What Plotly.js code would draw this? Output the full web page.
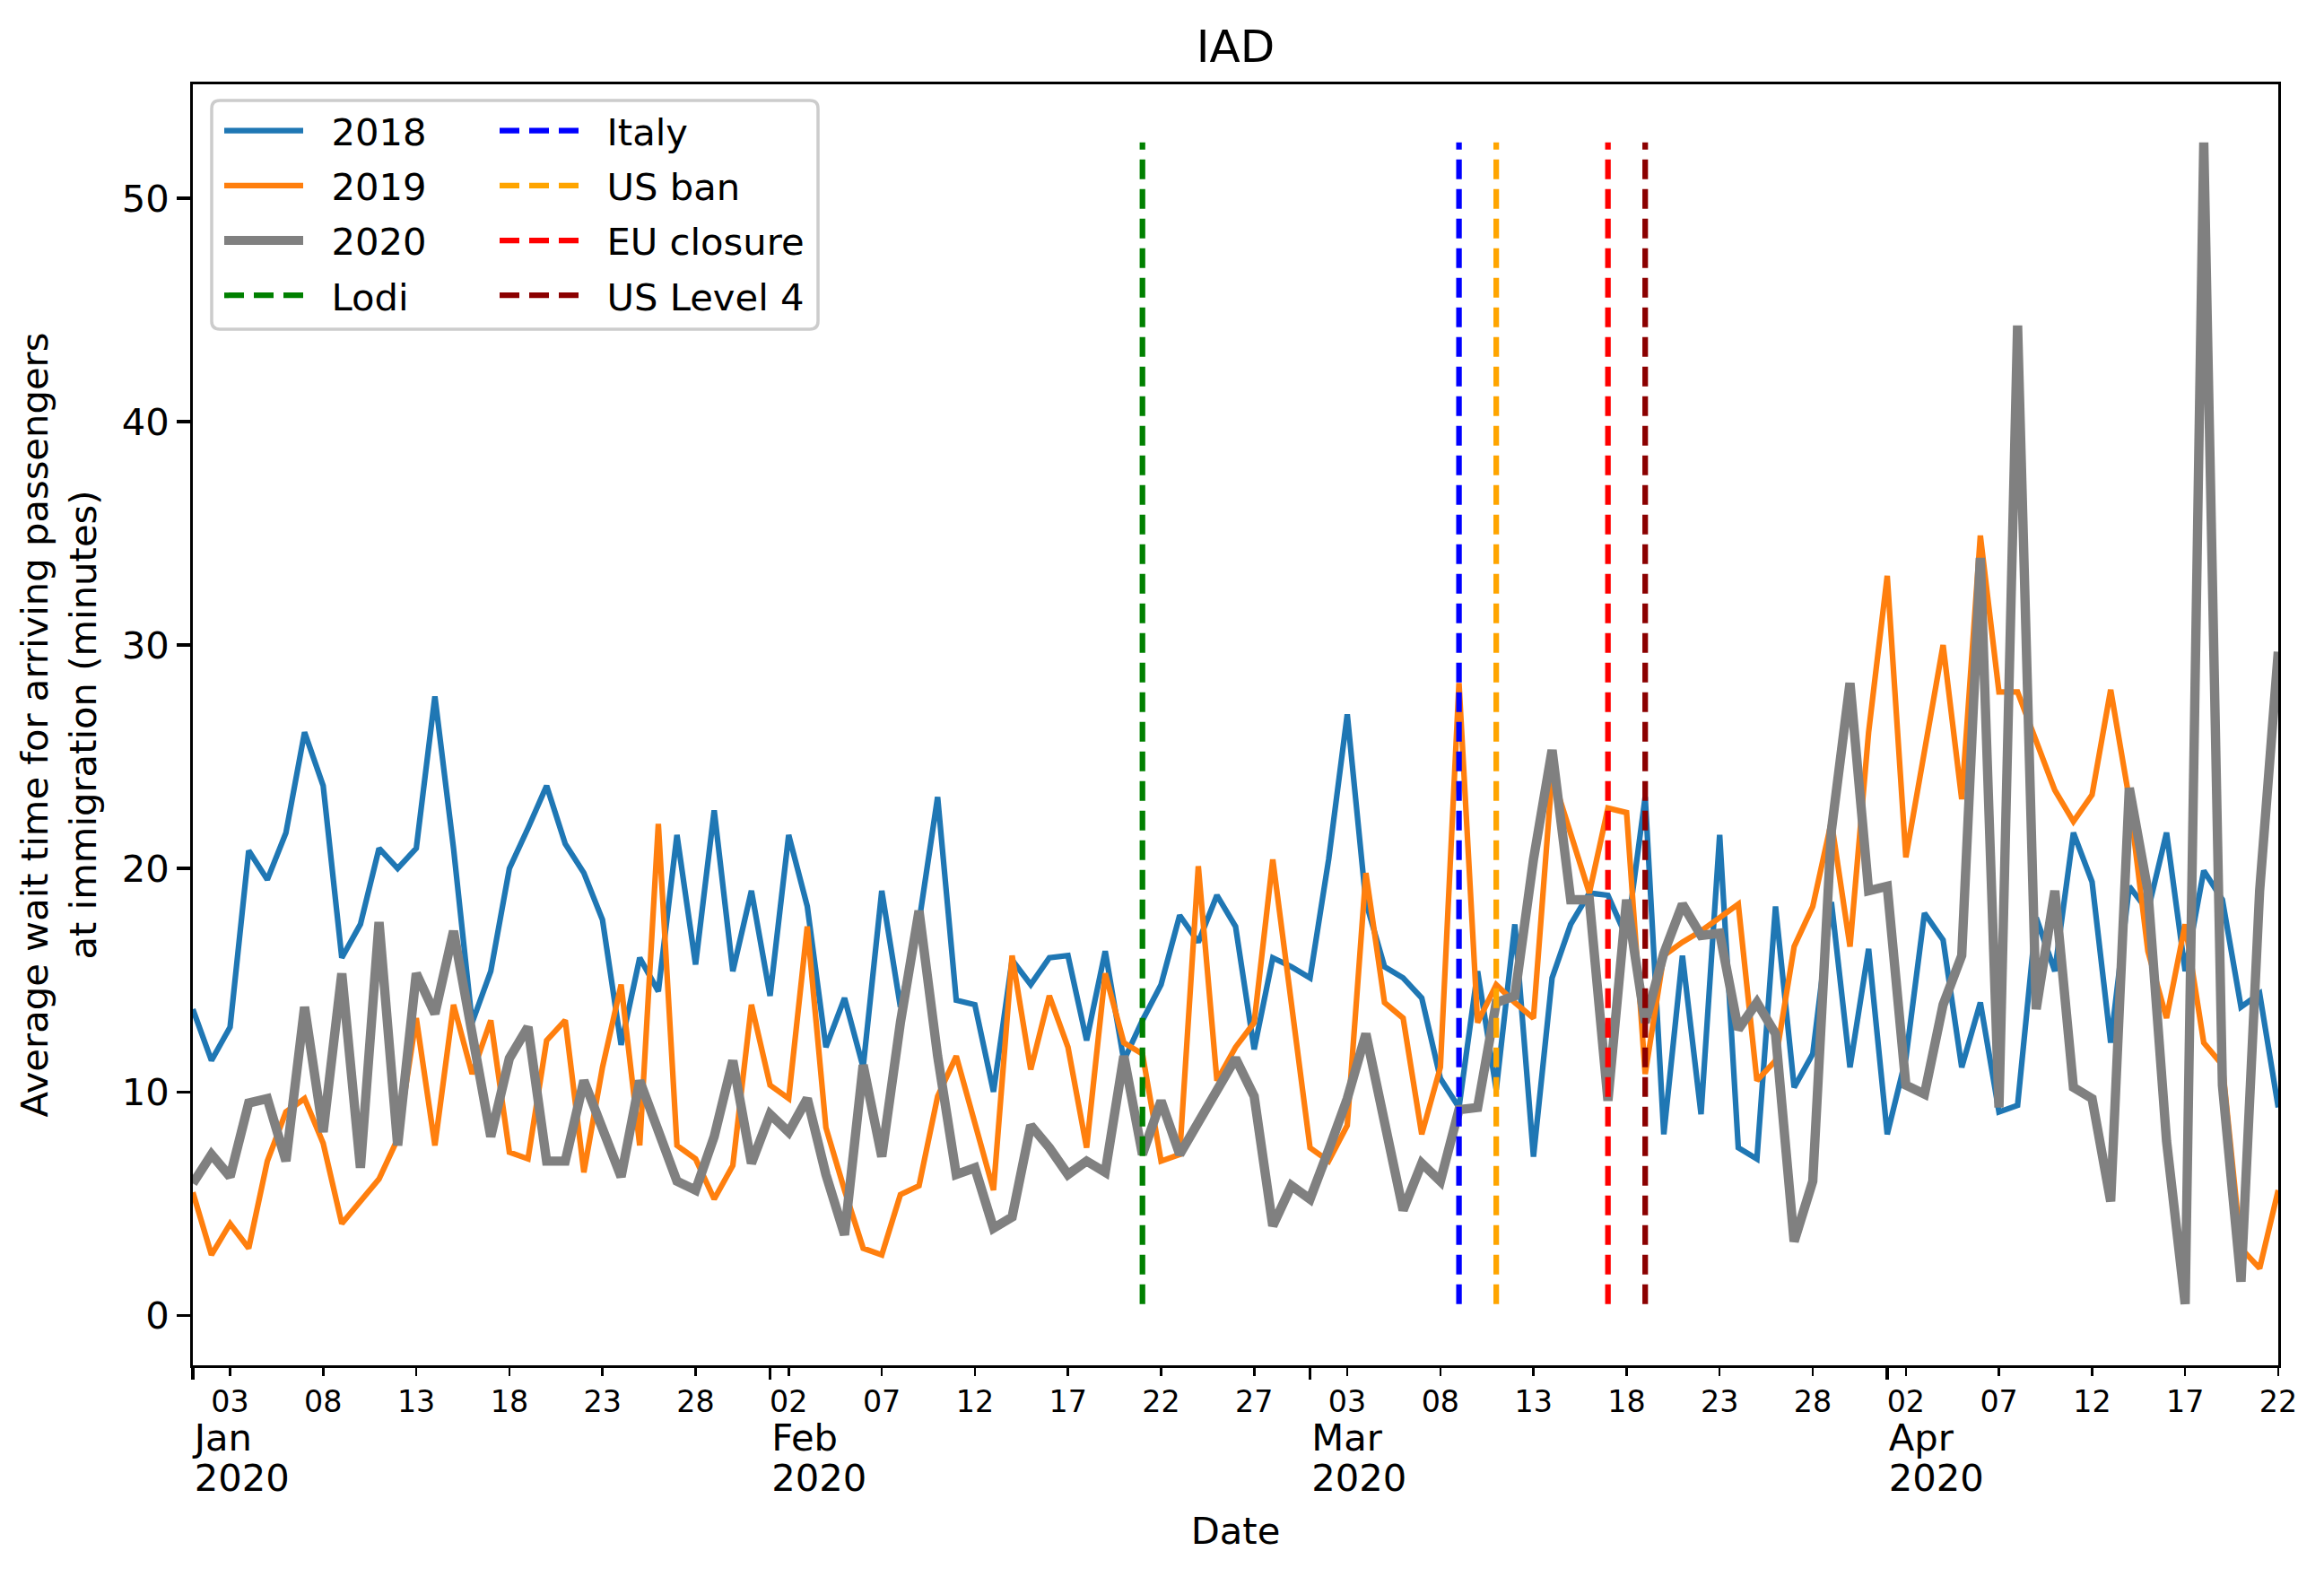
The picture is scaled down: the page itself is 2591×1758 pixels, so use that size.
<!DOCTYPE html>
<html>
<head>
<meta charset="utf-8">
<script src="https://cdn.plot.ly/plotly-3.0.1.min.js"></script>
<style>
  html, body { margin: 0; padding: 0; background: #ffffff; }
  #chart { width: 2591px; height: 1758px; }
</style>
</head>
<body>
<div id="chart"></div>
<script>
// ---------------- DATA ----------------
const START_DATE = '2020-01-01';
const N_DAYS = 113; // 2020-01-01 .. 2020-04-22

const SERIES_NAMES = ['2018', '2019', '2020'];

const WAIT_2018 = [
  13.7, 11.4, 12.9, 20.8, 19.5, 21.6, 26.1, 23.7, 16.0, 17.5, 20.9, 20.0, 20.9, 27.7, 20.9, 13.1, 15.4, 20.0, 21.8, 23.7, 21.1,
  19.8, 17.7, 12.1, 16.0, 14.5, 21.5, 15.7, 22.6, 15.4, 19.0, 14.3, 21.5, 18.3, 12.0, 14.2, 11.1, 19.0, 13.8,
  17.6, 23.2, 14.1, 13.9, 10.0, 15.9, 14.8, 16.0, 16.1, 12.3, 16.3, 11.4, 13.2, 14.8, 17.9, 16.7, 18.8, 17.4, 11.9, 16.0,
  15.6, 15.1, 20.4, 26.9, 18.5, 15.6, 15.1, 14.2, 10.6, 9.3, 15.4, 10.1, 17.5, 7.1, 15.1, 17.5, 18.9, 18.8, 16.9, 23.2,
  8.1, 16.1, 9.0, 21.5, 7.5, 7.0, 18.3, 10.2, 11.7, 18.5, 11.1, 16.4, 8.1, 11.5, 18.0, 16.8, 11.1, 14.0, 9.1,
  9.4, 17.8, 15.4, 21.6, 19.4, 12.2, 19.2, 18.1, 21.6, 15.4, 19.9, 18.6, 13.8, 14.4, 9.3
];

const WAIT_2019 = [
  5.5, 2.7, 4.1, 3.0, 6.9, 9.1, 9.7, 7.7, 4.1, 5.1, 6.1, 7.9, 13.3, 7.6, 13.9, 10.8, 13.2, 7.3, 7.0, 12.3, 13.2,
  6.4, 11.1, 14.8, 7.6, 22.0, 7.6, 7.0, 5.2, 6.7, 13.9, 10.3, 9.7, 17.4, 8.4, 5.6, 3.0, 2.7, 5.4,
  5.8, 9.8, 11.6, 8.7, 5.6, 16.1, 11.0, 14.3, 12.0, 7.5, 15.3, 12.2, 11.7, 6.9, 7.2, 20.1, 10.5, 12.0, 13.1, 20.4,
  13.9, 7.5, 6.9, 8.5, 19.8, 14.0, 13.3, 8.1, 11.1, 28.3, 13.1, 14.8, 14.0, 13.3, 24.2, 21.5, 18.9, 22.7, 22.5, 10.8,
  16.1, 16.7, 17.2, 17.8, 18.4, 10.5, 11.4, 16.5, 18.3, 22.1, 16.5, 26.1, 33.1, 20.5, 25.3, 30.0, 23.1, 34.9, 27.9,
  27.9, 25.7, 23.5, 22.1, 23.3, 28.0, 23.1, 16.3, 13.3, 17.5, 12.2, 11.2, 3.0, 2.1, 5.6
];

const WAIT_2020 = [
  5.9, 7.2, 6.2, 9.5, 9.7, 6.9, 13.8, 8.2, 15.3, 6.6, 17.6, 7.6, 15.3, 13.5, 17.2, 12.6, 8.0, 11.5, 12.9, 6.9, 6.9,
  10.5, 8.4, 6.2, 10.5, 8.2, 6.0, 5.6, 8.0, 11.4, 6.8, 9.0, 8.2, 9.7, 6.3, 3.6, 11.2, 7.1, 13.1,
  18.1, 11.6, 6.3, 6.6, 3.9, 4.4, 8.5, 7.5, 6.3, 6.9, 6.4, 11.6, 7.2, 9.6, 7.2, 8.7, 10.1, 11.5, 9.8, 4.0,
  5.8, 5.2, 7.4, 9.7, 12.6, 8.5, 4.7, 6.8, 6.0, 9.2, 9.3, 14.0, 14.3, 20.4, 25.3, 18.6, 18.6, 9.6, 18.6, 13.1,
  16.2, 18.4, 17.0, 17.1, 12.8, 14.0, 12.6, 3.3, 6.0, 21.7, 28.3, 19.0, 19.2, 10.3, 9.9, 13.9, 16.1, 33.9, 9.3,
  44.3, 13.7, 19.0, 10.2, 9.7, 5.1, 23.6, 19.0, 7.8, 0.5, 52.5, 10.3, 1.5, 19.0, 29.7
];

const EVENT_NAMES = ['Lodi', 'Italy', 'US ban', 'EU closure', 'US Level 4'];
const EVENT_DATES = ['2020-02-21', '2020-03-09', '2020-03-11', '2020-03-17', '2020-03-19'];

const MONTH_TICKS = ['2020-01-01', '2020-02-01', '2020-03-01', '2020-04-01'];
const MONTH_LABELS = ['Jan', 'Feb', 'Mar', 'Apr'];
const YEAR_LABELS = ['2020', '2020', '2020', '2020'];
const DAY_TICKS = [
  '2020-01-03', '2020-01-08', '2020-01-13', '2020-01-18', '2020-01-23', '2020-01-28',
  '2020-02-02', '2020-02-07', '2020-02-12', '2020-02-17', '2020-02-22', '2020-02-27',
  '2020-03-03', '2020-03-08', '2020-03-13', '2020-03-18', '2020-03-23', '2020-03-28',
  '2020-04-02', '2020-04-07', '2020-04-12', '2020-04-17', '2020-04-22'
];
const DAY_LABELS = ['03','08','13','18','23','28','02','07','12','17','22','27','03','08','13','18','23','28','02','07','12','17','22'];

const TITLE = 'IAD';
const X_TITLE = 'Date';
const Y_TITLE = 'Average wait time for arriving passengers<br>at immigration (minutes)';

// ---------------- BUILD ----------------
function buildDates(start, n) {
  const out = [];
  const t0 = Date.parse(start + 'T00:00:00Z');
  for (let i = 0; i < n; i++) {
    out.push(new Date(t0 + i * 86400000).toISOString().slice(0, 10));
  }
  return out;
}
const DATES = buildDates(START_DATE, N_DAYS);

const FONT = 'DejaVu Sans, Liberation Sans, sans-serif';
const SERIES_COLORS = ['#1f77b4', '#ff7f0e', '#808080'];
const SERIES_WIDTHS = [6.25, 6.25, 10.4];
const EVENT_COLORS = ['#008000', '#0000ff', '#ffa500', '#ff0000', '#8b0000'];
const PAD = '\u00a0\u00a0';

const allSeries = [WAIT_2018, WAIT_2019, WAIT_2020];
const allVals = [].concat(...allSeries);
const yMin = Math.min(...allVals);
const yMax = Math.max(...allVals);

const traces = [];
allSeries.forEach((vals, i) => {
  traces.push({
    type: 'scatter', mode: 'lines', x: DATES, y: vals,
    name: PAD + SERIES_NAMES[i], legend: 'legend', legendgroup: 's' + i,
    line: { color: SERIES_COLORS[i], width: SERIES_WIDTHS[i] },
    hoverinfo: 'skip'
  });
});
EVENT_NAMES.forEach((nm, i) => {
  traces.push({
    type: 'scatter', mode: 'lines', x: [EVENT_DATES[i], EVENT_DATES[i]], y: [yMin, yMax],
    name: PAD + nm, legend: i === 0 ? 'legend' : 'legend2', legendgroup: 'e' + i,
    line: { color: EVENT_COLORS[i], width: 6.25, dash: '22px,11px' },
    hoverinfo: 'skip'
  });
});
// helper traces so the month / year label axes exist
traces.push({ type: 'scatter', mode: 'lines', x: [], y: [], xaxis: 'x2', yaxis: 'y', showlegend: false, hoverinfo: 'skip' });
traces.push({ type: 'scatter', mode: 'lines', x: [], y: [], xaxis: 'x3', yaxis: 'y', showlegend: false, hoverinfo: 'skip' });

// plot area in pixels
const W = 2591, H = 1758;
const L = 215, R = 51, T = 94, B = 236;
const PW = W - L - R, PH = H - T - B;
const px = v => (v - L) / PW;
const py = v => (H - B - v) / PH;

// legend frame (rounded rectangle)
const fx0 = px(236), fx1 = px(912), fy1 = py(112), fy0 = py(367);
const rx = 9 / PW, ry = 9 / PH;
const framePath = `M${fx0 + rx},${fy1} L${fx1 - rx},${fy1} Q${fx1},${fy1} ${fx1},${fy1 - ry} ` +
  `L${fx1},${fy0 + ry} Q${fx1},${fy0} ${fx1 - rx},${fy0} L${fx0 + rx},${fy0} Q${fx0},${fy0} ${fx0},${fy0 + ry} ` +
  `L${fx0},${fy1 - ry} Q${fx0},${fy1} ${fx0 + rx},${fy1} Z`;

const legendCommon = {
  xanchor: 'left', yanchor: 'top',
  bgcolor: 'rgba(0,0,0,0)', borderwidth: 0,
  font: { family: FONT, size: 41.7, color: '#000000' },
  itemwidth: 88, traceorder: 'grouped', tracegroupgap: 4
};

const monthAxisCommon = {
  type: 'date', overlaying: 'x', anchor: 'y', side: 'bottom',
  range: [DATES[0], DATES[DATES.length - 1]],
  tickmode: 'array', tickvals: MONTH_TICKS,
  ticks: 'outside', ticklen: 14.6, tickwidth: 3.3, tickcolor: '#000000',
  tickfont: { family: FONT, size: 41.7, color: '#000000' },
  ticklabelposition: 'outside right',
  showline: false, showgrid: false, zeroline: false, automargin: false
};

const layout = {
  width: W, height: H,
  margin: { l: L, r: R, t: T, b: B, pad: 0 },
  paper_bgcolor: '#ffffff', plot_bgcolor: '#ffffff',
  font: { family: FONT, color: '#000000' },
  showlegend: true,
  title: {
    text: TITLE, font: { family: FONT, size: 50, color: '#000000' },
    xref: 'paper', x: 0.5, xanchor: 'center',
    yref: 'container', y: 1 - 51 / H, yanchor: 'middle'
  },
  xaxis: {
    type: 'date', range: [DATES[0], DATES[DATES.length - 1]],
    tickmode: 'array', tickvals: DAY_TICKS, ticktext: DAY_LABELS,
    ticks: 'outside', ticklen: 8.3, tickwidth: 2.5, tickcolor: '#000000',
    tickfont: { family: FONT, size: 33.3, color: '#000000' },
    ticklabelstandoff: 0,
    showline: true, mirror: true, linewidth: 3.3, linecolor: '#000000',
    showgrid: false, zeroline: false, automargin: false
  },
  xaxis2: Object.assign({}, monthAxisCommon, {
    ticktext: MONTH_LABELS, ticklabelstandoff: 44
  }),
  xaxis3: Object.assign({}, monthAxisCommon, {
    ticktext: YEAR_LABELS, ticklabelstandoff: 89,
    title: { text: X_TITLE, font: { family: FONT, size: 41.7, color: '#000000' }, standoff: 20 }
  }),
  yaxis: {
    range: [-2.24, 55.1], tickmode: 'array', tickvals: [0, 10, 20, 30, 40, 50],
    ticks: 'outside', ticklen: 14.6, tickwidth: 3.3, tickcolor: '#000000',
    tickfont: { family: FONT, size: 41.7, color: '#000000' },
    showline: true, mirror: true, linewidth: 3.3, linecolor: '#000000',
    showgrid: false, zeroline: false, automargin: false,
    title: { text: Y_TITLE, font: { family: FONT, size: 41.7, color: '#000000' }, standoff: 16 }
  },
  legend: Object.assign({ x: px(245), y: py(112) }, legendCommon),
  legend2: Object.assign({ x: px(552), y: py(112) }, legendCommon),
  shapes: [{
    type: 'path', xref: 'paper', yref: 'paper', path: framePath,
    line: { color: '#cccccc', width: 3.5 }, fillcolor: 'rgba(255,255,255,0.8)', layer: 'above'
  }]
};

Plotly.newPlot('chart', traces, layout, { staticPlot: true, displayModeBar: false });
</script>
</body>
</html>
